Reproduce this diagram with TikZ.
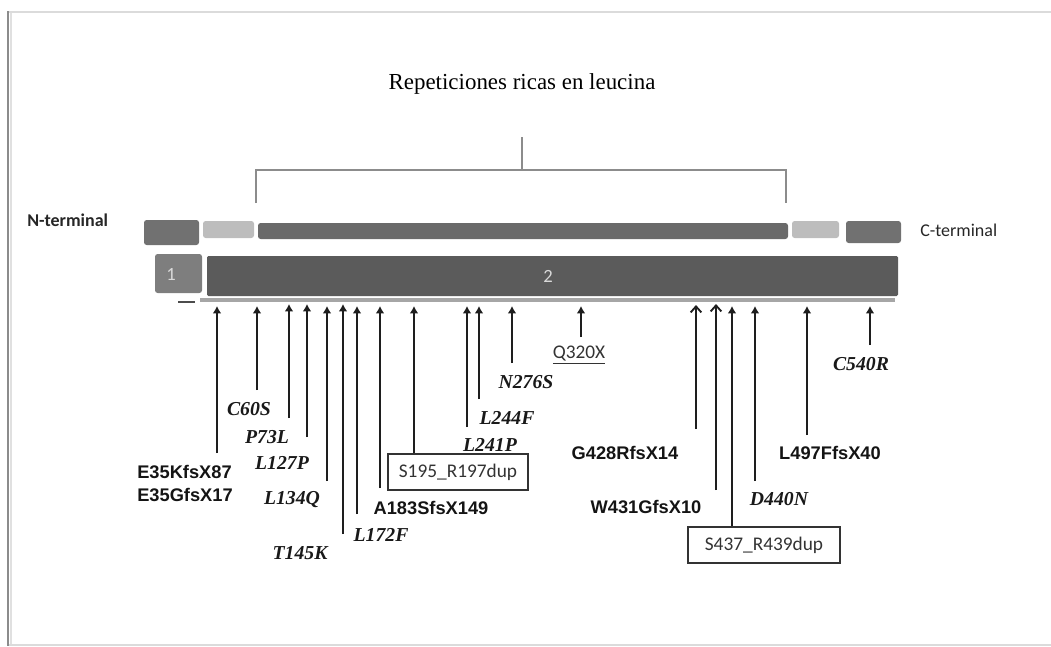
\documentclass[tikz,border=0pt]{standalone}
\usepackage{fontspec}
\setmainfont{Liberation Serif}
\newfontfamily\calfont{Carlito}
\newfontfamily\arfont{Liberation Sans}
\usetikzlibrary{arrows.meta}
\definecolor{segdark}{HTML}{717171}
\definecolor{seglight}{HTML}{BDBDBD}
\definecolor{bardark}{HTML}{6A6A6A}
\definecolor{exonone}{HTML}{7E7E7E}
\definecolor{exontwo}{HTML}{5B5B5B}
\definecolor{shaft}{HTML}{1E1E1E}
\begin{document}
\begin{tikzpicture}[x=0.75pt,y=-0.75pt,
  mut/.style={draw=shaft, line width=1.9pt, -{Latex[length=5.5pt,width=6.5pt]}},
  openmut/.style={draw=shaft, line width=1.8pt, -{Straight Barb[length=4.5pt,width=8pt,line width=1.4pt]}},
  ital/.style={font=\fontsize{14.8}{16}\selectfont\bfseries\itshape, inner sep=0pt, text=black!90},
  bsans/.style={font=\arfont\fontsize{13.7}{15}\selectfont\bfseries, inner sep=0pt, text=black!92},
  cbox/.style={draw=black!80, line width=1.1pt, font=\calfont\fontsize{14.5}{16}\selectfont, minimum height=27pt, inner sep=0pt, text=black!80},
  seg/.style={rounded corners=2pt},
  term/.style={font=\calfont\fontsize{13.5}{15}\selectfont, inner sep=0pt, text=black!85},
  exlbl/.style={font=\calfont\fontsize{14}{16}\selectfont, inner sep=0pt, text=black!15},
]
\useasboundingbox (0,0) rectangle (1051,647);
% frame
\draw[black!14, line width=2pt] (8,12) -- (1060,12);
\draw[black!14, line width=2pt] (8,645) -- (1060,645);
\draw[black!12, line width=2pt] (11,13) -- (11,644);
\draw[black!45, line width=1.4pt] (8,11) -- (8,646);

% title and bracket
\node (title) at (522,84) {\fontsize{17.2}{19}\selectfont Repeticiones ricas en leucina};
\coordinate (brL) at (256,203);
\coordinate (brR) at (786,203);
\coordinate (brM) at (522,170);
\coordinate (brT) at (522,137);
\draw[black!45, line width=1pt] (brL) -- (brL |- brM) -- (brR |- brM) -- (brR);
\draw[black!45, line width=1pt] (brM) -- (brT);

% protein domains
\fill[seg, segdark] (144,220) rectangle (199,245);
\fill[seg, seglight] (203,221) rectangle (254,238);
\fill[seg, bardark] (258,223) rectangle (788,239);
\fill[seg, seglight] (792,221) rectangle (839,238);
\fill[seg, segdark] (846,221) rectangle (901,243);
\node[term, font=\calfont\bfseries\fontsize{13.5}{15}\selectfont, anchor=west] (nterm) at (27,220) {N-terminal};
\node[term, anchor=west] (cterm) at (920,230) {C-terminal};

% exons
\fill[seg, exonone] (155,254) rectangle (202,293);
\fill[exontwo, rounded corners=1pt] (207,256) rectangle (898,296);
\node[exlbl] (ex1) at (171,274) {1};
\node[exlbl] (ex2) at (548,276) {2};

% baseline
\draw[black!35, line width=3pt] (200,300) -- (895,300);
\draw[black!70, line width=1.2pt] (178,302) -- (195,302);

% labels
\node[bsans, anchor=west] (e35a) at (137,472) {E35KfsX87};
\node[bsans, anchor=west] (e35b) at (137,495) {E35GfsX17};
\node[ital] (c60s) at (249,409) {C60S};
\node[ital] (p73l) at (267,437) {P73L};
\node[ital] (l127p) at (282,463) {L127P};
\node[ital] (l134q) at (292,500) {L134Q};
\node[ital] (t145k) at (300,553) {T145K};
\node[ital] (l172f) at (381,535) {L172F};
\node[bsans] (a183) at (431,508) {A183SfsX149};
\node[cbox, minimum width=105pt] (s195) at (458,472) {S195\_R197dup};
\node[ital] (l241p) at (490,445) {L241P};
\node[ital] (l244f) at (507,418) {L244F};
\node[ital] (n276s) at (526,382) {N276S};
\node[font=\calfont\fontsize{14.5}{16}\selectfont, inner sep=0pt, text=black!80] (q320x) at (579,355) {\underline{Q320X}};
\node[bsans] (g428) at (625,453) {G428RfsX14};
\node[bsans] (w431) at (646,507) {W431GfsX10};
\node[cbox, minimum width=114pt] (s437) at (764,545) {S437\_R439dup};
\node[ital] (d440n) at (779,499) {D440N};
\node[bsans] (l497) at (830,453) {L497FfsX40};
\node[ital] (c540r) at (861,364) {C540R};

% arrow ends
\coordinate (t35) at (217,306);   \coordinate (b35) at (217,453);
\coordinate (t60) at (257,306);   \coordinate (b60) at (257,390);
\coordinate (t73) at (289,304);   \coordinate (b73) at (289,418);
\coordinate (t127) at (307,304);  \coordinate (b127) at (307,437);
\coordinate (t134) at (327,306);  \coordinate (b134) at (327,481);
\coordinate (t145) at (343,304);  \coordinate (b145) at (343,534);
\coordinate (t172) at (357,306);  \coordinate (b172) at (357,514);
\coordinate (t183) at (380,306);  \coordinate (b183) at (380,488);
\coordinate (t195) at (414,306);
\coordinate (t241) at (467,306);  \coordinate (b241) at (467,427);
\coordinate (t244) at (479,306);  \coordinate (b244) at (479,399);
\coordinate (t276) at (512,306);  \coordinate (b276) at (512,363);
\coordinate (t320) at (581,306);  \coordinate (b320) at (581,337);
\coordinate (t428) at (696,305);  \coordinate (b428) at (696,429);
\coordinate (t431) at (716,304);  \coordinate (b431) at (716,490);
\coordinate (t437) at (732,306);
\coordinate (t440) at (755,306);  \coordinate (b440) at (755,481);
\coordinate (t497) at (807,306);  \coordinate (b497) at (807,435);
\coordinate (t540) at (870,306);  \coordinate (b540) at (870,345);

% arrows
\draw[mut] (b35) -- (t35);
\draw[mut] (b60) -- (t60);
\draw[mut] (b73) -- (t73);
\draw[mut] (b127) -- (t127);
\draw[mut] (b134) -- (t134);
\draw[mut] (b145) -- (t145);
\draw[mut] (b172) -- (t172);
\draw[mut] (b183) -- (t183);
\draw[mut] (t195 |- s195.north) -- (t195);
\draw[mut] (b241) -- (t241);
\draw[mut] (b244) -- (t244);
\draw[mut] (b276) -- (t276);
\draw[mut] (b320) -- (t320);
\draw[openmut] (b428) -- (t428);
\draw[openmut] (b431) -- (t431);
\draw[mut] (t437 |- s437.north) -- (t437);
\draw[mut] (b440) -- (t440);
\draw[mut] (b497) -- (t497);
\draw[mut] (b540) -- (t540);
\end{tikzpicture}
\end{document}
